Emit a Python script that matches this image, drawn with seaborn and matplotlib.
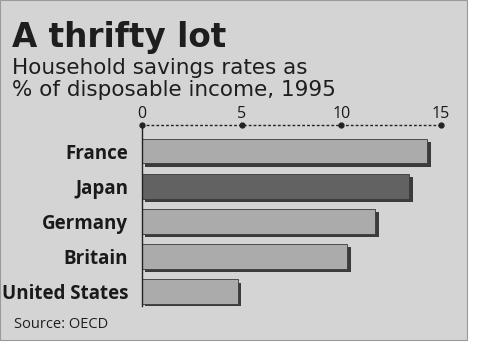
import matplotlib
matplotlib.use('Agg')
import matplotlib.pyplot as plt
import matplotlib.patheffects as pe
from matplotlib.patches import Rectangle
import seaborn as sns
import pandas as pd

# Household savings rates, % of disposable income, 1995
countries = ['France', 'Japan', 'Germany', 'Britain', 'United States']
savings = [14.3, 13.4, 11.7, 10.3, 4.8]
bar_colors = ['#ababab', '#626262', '#ababab', '#ababab', '#ababab']
ticks = [0, 5, 10, 15]

df = pd.DataFrame({'country': countries, 'rate': savings})

sns.set_theme(style='white')
plt.rcParams['font.family'] = ['Open Sans', 'DejaVu Sans']

fig = plt.figure(figsize=(5, 3.58), dpi=100, facecolor='white')
# grey panel like the printed chart
fig.patches.append(Rectangle((0, 1 - 340 / 358), 467 / 500, 340 / 358,
                             transform=fig.transFigure, facecolor='#d4d4d4',
                             edgecolor='#9a9a9a', lw=0.8, zorder=-10))

ax = fig.add_axes([142 / 500, 1 - 306 / 358, 299 / 500, 181 / 358])
ax.set_facecolor('none')
ax.set_zorder(5)

sns.barplot(data=df, x='rate', y='country', hue='country', palette=bar_colors,
            legend=False, width=0.71, ax=ax, edgecolor='#3a3a3a', linewidth=0.6)
for p in ax.patches:
    p.set_path_effects([pe.SimplePatchShadow(offset=(2.5, -2.5), shadow_rgbFace='#2a2a2a', alpha=0.9),
                        pe.Normal()])

ax.set_xlim(0, 15)
ax.set_ylim(4.41, -0.74)
ax.set_xticks(ticks)
ax.xaxis.tick_top()
ax.tick_params(axis='x', length=0, pad=2, labelsize=11.5, labelcolor='#1a1a1a')
ax.tick_params(axis='y', length=0, pad=10, labelcolor='#1a1a1a')
ax.set_yticks(range(len(countries)))
ax.set_yticklabels(countries, fontsize=13.5, fontweight='bold',
                   fontstretch='normal', family=['Open Sans', 'DejaVu Sans'])
ax.set_xlabel('')
ax.set_ylabel('')

for s in ['right', 'bottom']:
    ax.spines[s].set_visible(False)
ax.spines['top'].set_linestyle((0, (1, 2.5)))
ax.spines['top'].set_color('#222222')
ax.spines['top'].set_linewidth(1.0)
ax.spines['left'].set_color('#222222')
ax.spines['left'].set_linewidth(1.0)
ax.plot(ticks, [1] * len(ticks), 'o', color='#222222', ms=3.5,
        transform=ax.get_xaxis_transform(), clip_on=False)

fig.text(12 / 500, 1 - 47 / 358, 'A thrifty lot', fontsize=23.5, fontweight='bold',
         family=['DejaVu Sans'], color='#1e1e1e', ha='left', va='baseline')
fig.text(12 / 500, 1 - 74 / 358, 'Household savings rates as', fontsize=15.5,
         family=['DejaVu Sans'], color='#1e1e1e', ha='left', va='baseline')
fig.text(12 / 500, 1 - 96 / 358, '% of disposable income, 1995', fontsize=15.5,
         family=['DejaVu Sans'], color='#1e1e1e', ha='left', va='baseline')
fig.text(14 / 500, 1 - 328 / 358, 'Source: OECD', fontsize=10.5,
         color='#1e1e1e', ha='left', va='baseline')

fig.savefig('out.png', dpi=100, facecolor='white')
